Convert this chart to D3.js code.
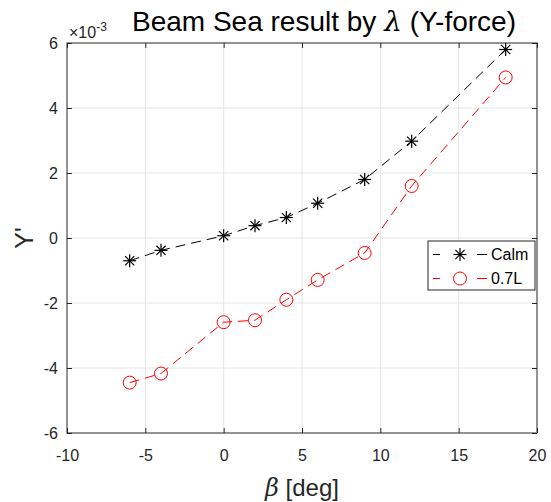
<!DOCTYPE html>
<html>
<head>
<meta charset="utf-8">
<script src="https://cdn.jsdelivr.net/npm/d3@7"></script>
<style>
  body { margin: 0; background: #fff; }
  svg { font-family: "Liberation Sans", Arial, sans-serif; }
</style>
</head>
<body>
<svg width="551" height="502"></svg>
<script>
const beta = [-6, -4, 0, 2, 4, 6, 9, 12, 18];
const calm = [-0.70, -0.38, 0.07, 0.38, 0.63, 1.07, 1.80, 2.98, 5.80];
const wave07L = [-4.45, -4.17, -2.59, -2.53, -1.90, -1.29, -0.46, 1.60, 4.94];
const xTicks = [-10, -5, 0, 5, 10, 15, 20];
const yTicks = [-6, -4, -2, 0, 2, 4, 6];

const margin = { left: 67, right: 14, top: 43, bottom: 69 };
const width = 551, height = 502;

const svg = d3.select("svg");

const x = d3.scaleLinear().domain([-10, 20]).range([margin.left, width - margin.right]);
const y = d3.scaleLinear().domain([-6, 6]).range([height - margin.bottom, margin.top]);

// grid
svg.append("g").selectAll("line")
    .data(xTicks.slice(1, -1))
    .enter().append("line")
    .attr("x1", d => x(d)).attr("x2", d => x(d))
    .attr("y1", y(-6)).attr("y2", y(6))
    .attr("stroke", "#e6e6e6").attr("stroke-width", 1);
svg.append("g").selectAll("line")
    .data(yTicks.slice(1, -1))
    .enter().append("line")
    .attr("y1", d => y(d)).attr("y2", d => y(d))
    .attr("x1", x(-10)).attr("x2", x(20))
    .attr("stroke", "#e6e6e6").attr("stroke-width", 1);

// axes (inner ticks, box)
const fmt = d => String(d);
const axisStyle = g => {
    g.select(".domain").remove();
    g.selectAll("line").attr("stroke", "#262626");
    g.selectAll("text").attr("fill", "#262626").style("font-size", "16px");
};
svg.append("g")
    .attr("transform", `translate(0,${y(-6)})`)
    .call(d3.axisBottom(x).tickValues(xTicks).tickFormat(fmt).tickSizeInner(-5).tickSizeOuter(0).tickPadding(17))
    .call(axisStyle);
svg.append("g")
    .attr("transform", `translate(0,${y(6)})`)
    .call(d3.axisTop(x).tickValues(xTicks).tickSizeInner(-5).tickSizeOuter(0).tickFormat(""))
    .call(axisStyle);
svg.append("g")
    .attr("transform", `translate(${x(-10)},0)`)
    .call(d3.axisLeft(y).tickValues(yTicks).tickFormat(fmt).tickSizeInner(-5).tickSizeOuter(0).tickPadding(9))
    .call(axisStyle);
svg.append("g")
    .attr("transform", `translate(${x(20)},0)`)
    .call(d3.axisRight(y).tickValues(yTicks).tickSizeInner(-5).tickSizeOuter(0).tickFormat(""))
    .call(axisStyle);

svg.append("rect")
    .attr("x", x(-10)).attr("y", y(6))
    .attr("width", x(20) - x(-10)).attr("height", y(-6) - y(6))
    .attr("fill", "none").attr("stroke", "#262626").attr("stroke-width", 1);

// series
const series = [
    { name: "Calm", values: calm, color: "#000000", marker: "star" },
    { name: "0.7L", values: wave07L, color: "#ff0000", marker: "circle" }
];

const line = d3.line().x(d => x(d[0])).y(d => y(d[1]));

function drawMarker(g, type, color) {
    if (type === "circle") {
        g.append("circle").attr("r", 6.5)
            .attr("fill", "none").attr("stroke", color).attr("stroke-width", 1);
    } else {
        const r = 6.5;
        for (let a = 0; a < 4; a++) {
            const ang = a * Math.PI / 4;
            g.append("line")
                .attr("x1", -r * Math.cos(ang)).attr("y1", -r * Math.sin(ang))
                .attr("x2", r * Math.cos(ang)).attr("y2", r * Math.sin(ang))
                .attr("stroke", color).attr("stroke-width", 1.2);
        }
    }
}

series.forEach(s => {
    const pts = beta.map((b, i) => [b, s.values[i]]);
    svg.append("path")
        .datum(pts)
        .attr("d", line)
        .attr("fill", "none")
        .attr("stroke", s.color)
        .attr("stroke-width", 1)
        .attr("stroke-dasharray", "10,6");
    pts.forEach(p => {
        const g = svg.append("g").attr("transform", `translate(${x(p[0])},${y(p[1])})`);
        drawMarker(g, s.marker, s.color);
    });
});

// legend
const legend = svg.append("g").attr("transform", "translate(428,241)");
legend.append("rect")
    .attr("width", 107).attr("height", 49)
    .attr("fill", "#fff").attr("stroke", "#262626").attr("stroke-width", 1);
series.forEach((s, i) => {
    const ly = 13.5 + i * 24;
    legend.append("line").attr("x1", 5).attr("x2", 12).attr("y1", ly).attr("y2", ly)
        .attr("stroke", s.color);
    legend.append("line").attr("x1", 49).attr("x2", 59).attr("y1", ly).attr("y2", ly)
        .attr("stroke", s.color);
    const g = legend.append("g").attr("transform", `translate(32,${ly})`);
    drawMarker(g, s.marker, s.color);
    legend.append("text").attr("x", 63).attr("y", ly).attr("dy", "0.36em")
        .style("font-size", "16px").attr("fill", "#000").text(s.name);
});

// title
const title = svg.append("text")
    .attr("x", 324).attr("y", 31)
    .attr("text-anchor", "middle")
    .style("font-size", "28px")
    .attr("fill", "#000");
title.append("tspan").text("Beam Sea result by ");
title.append("tspan").attr("font-family", "'DejaVu Serif', serif").style("font-style", "italic").text("λ");
title.append("tspan").text(" (Y-force)");

// exponent
const expo = svg.append("text").attr("x", 69).attr("y", 38)
    .style("font-size", "16px").attr("fill", "#262626");
expo.append("tspan").text("×10");
expo.append("tspan").attr("dy", -7).style("font-size", "12px").text("-3");

// axis labels
svg.append("text")
    .attr("x", x(5)).attr("y", 496)
    .attr("text-anchor", "middle")
    .style("font-size", "24px").attr("fill", "#262626")
    .call(t => {
        t.append("tspan").attr("font-family", "'DejaVu Serif', serif").style("font-style", "italic").text("β");
        t.append("tspan").text(" [deg]");
    });
svg.append("text")
    .attr("transform", `translate(33,${y(0)}) rotate(-90)`)
    .attr("text-anchor", "middle")
    .style("font-size", "25px").attr("fill", "#262626")
    .text("Y'");
</script>
</body>
</html>
